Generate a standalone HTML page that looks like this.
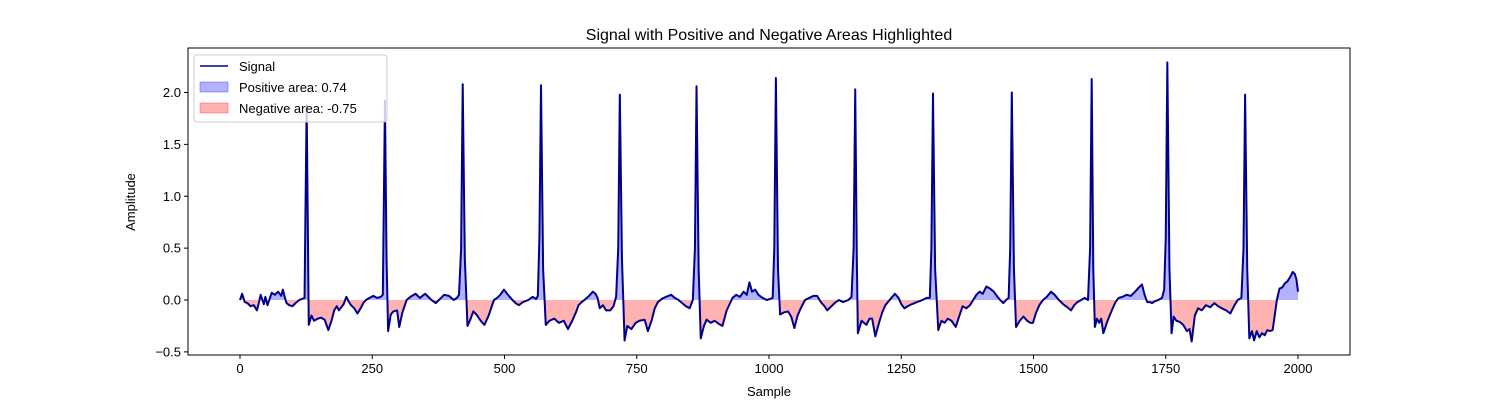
<!DOCTYPE html>
<html><head><meta charset="utf-8"><style>
body{margin:0;background:#fff}
svg text{font-family:"Liberation Sans","DejaVu Sans",sans-serif;fill:#000}
</style></head><body>
<svg id="chart" width="1500" height="400" xmlns="http://www.w3.org/2000/svg"></svg>
<script>
const sampleIdx=[
0,4,9,14,20,26,32,36,39,45,48,52,56,60,66,72,78,81,85,88,93,99,105,112,117,122,
126,130,135,140,147,153,160,167,173,178,183,187,190,196,201,206,210,216,222,228,233,238,245,252,259,266,270,
274,277,280,285,290,297,301,307,315,322,332,340,350,356,362,370,378,386,395,404,410,414,418,
421,425,430,436,441,447,455,462,470,480,486,492,499,505,510,515,521,527,535,545,553,560,563,566,
569,573,578,585,594,603,612,620,628,635,640,646,651,660,667,672,676,680,686,692,700,706,711,715,
718,722,727,732,740,748,755,765,771,778,784,790,797,805,815,822,829,836,843,850,853,856,860,
863,867,871,877,882,890,897,905,912,920,931,938,945,952,958,963,968,974,980,988,996,1002,1007,1010,
1013,1017,1021,1028,1036,1042,1048,1054,1060,1068,1076,1084,1091,1098,1105,1110,1116,1124,1132,1140,1150,1156,1160,
1163,1166,1168,1175,1184,1190,1195,1201,1208,1214,1220,1228,1238,1245,1250,1256,1262,1270,1280,1290,1298,1304,1307,
1310,1314,1320,1326,1332,1338,1345,1353,1360,1366,1373,1380,1386,1392,1398,1404,1411,1418,1425,1432,1437,1443,1448,1453,1456,
1459,1463,1467,1474,1481,1488,1494,1499,1505,1511,1518,1525,1533,1540,1548,1556,1564,1571,1577,1583,1590,1597,1603,1607,
1610,1613,1616,1620,1624,1628,1632,1640,1648,1655,1661,1668,1676,1684,1692,1699,1705,1710,1715,1720,1724,1730,1736,1743,1747,1750,
1753,1757,1761,1765,1770,1776,1783,1790,1795,1799,1805,1811,1818,1826,1834,1842,1849,1856,1864,1872,1880,1886,1893,1897,
1900,1904,1908,1913,1917,1922,1927,1932,1937,1942,1947,1952,1956,1960,1965,1970,1975,1980,1985,1990,1994,1997,2000];
const amplitude=[
0,0.06,-0.02,-0.03,-0.06,-0.05,-0.1,-0.02,0.05,-0.04,0.03,-0.05,0.01,0.07,0.05,0.08,0.04,0.1,0.02,-0.03,-0.05,-0.06,-0.03,0,0.01,0.02,
1.88,-0.24,-0.15,-0.2,-0.18,-0.17,-0.19,-0.29,-0.2,-0.1,-0.06,-0.1,-0.08,-0.04,0.03,-0.02,-0.05,-0.08,-0.13,-0.08,-0.03,0.0,0.02,0.04,0.02,0.03,0.05,
1.92,0.4,-0.3,-0.14,-0.11,-0.1,-0.26,-0.12,0.0,0.03,0.06,0.02,0.06,0.03,0.0,-0.03,0.01,0.05,0.04,0.0,0.02,0.05,0.5,
2.08,0.4,-0.25,-0.18,-0.11,-0.14,-0.2,-0.24,-0.15,0.0,0.02,0.05,0.1,0.06,0.03,0.0,-0.03,-0.05,-0.02,0.0,0.03,0.01,0.04,0.6,
2.07,0.3,-0.24,-0.2,-0.18,-0.22,-0.2,-0.28,-0.2,-0.12,-0.05,-0.02,0.0,0.04,0.08,0.06,0.02,-0.08,-0.05,-0.1,-0.1,-0.06,0.03,0.5,
1.98,0.4,-0.39,-0.25,-0.28,-0.22,-0.2,-0.19,-0.3,-0.2,-0.08,-0.02,0.01,0.03,0.05,0.02,0.0,-0.03,-0.06,-0.08,-0.04,0.0,0.5,
2.06,0.3,-0.37,-0.25,-0.19,-0.22,-0.2,-0.23,-0.25,-0.1,0.02,0.05,0.03,0.08,0.05,0.17,0.08,0.1,0.05,0.02,0.0,0.01,0.02,0.5,
2.14,0.3,-0.14,-0.12,-0.11,-0.16,-0.27,-0.15,-0.08,0.0,0.02,0.04,0.04,-0.02,-0.06,-0.1,-0.07,-0.03,0.0,-0.02,0.0,0.03,0.5,
2.03,0.4,-0.32,-0.2,-0.24,-0.18,-0.18,-0.35,-0.22,-0.12,-0.05,0.0,0.06,0.02,-0.04,-0.08,-0.06,-0.04,-0.02,0.0,0.02,0.02,0.5,
1.99,0.3,-0.29,-0.2,-0.22,-0.18,-0.2,-0.26,-0.15,-0.06,-0.08,-0.05,0.0,0.05,0.08,0.06,0.13,0.11,0.08,0.03,0.0,-0.03,0.0,0.02,0.5,
2.0,0.3,-0.26,-0.2,-0.16,-0.2,-0.22,-0.22,-0.12,-0.05,0.0,0.03,0.08,0.05,0.0,-0.04,-0.07,-0.1,-0.05,-0.02,0.0,0.02,0.0,0.5,
2.13,0.3,-0.26,-0.18,-0.22,-0.18,-0.32,-0.2,-0.1,-0.02,0.02,0.03,0.05,0.04,0.08,0.12,0.15,0.05,-0.02,-0.02,-0.03,-0.01,0.0,0.02,0.1,0.6,
2.29,0.3,-0.32,-0.16,-0.2,-0.21,-0.24,-0.3,-0.28,-0.4,-0.15,-0.08,-0.1,-0.05,-0.07,-0.03,-0.06,-0.08,-0.1,-0.13,-0.05,0.0,0.02,0.5,
1.98,0.3,-0.37,-0.3,-0.39,-0.3,-0.36,-0.32,-0.34,-0.29,-0.3,-0.29,-0.15,0.0,0.11,0.12,0.16,0.18,0.22,0.27,0.25,0.2,0.08];
const xTicks=[0,250,500,750,1000,1250,1500,1750,2000];
const yTicks=[-0.5,0.0,0.5,1.0,1.5,2.0];
const legendLabels=["Signal","Positive area: 0.74","Negative area: -0.75"];

const L=188,R=1350,T=48,B=355;
const X=v=>240+v*(1298-240)/2000;
const Y=v=>300-v*103.75;
const NS="http://www.w3.org/2000/svg";
const svg=document.getElementById('chart');
function mk(tag,attrs,parent){const e=document.createElementNS(NS,tag);for(const k in attrs)e.setAttribute(k,attrs[k]);(parent||svg).appendChild(e);return e;}

const defs=mk('defs',{});
const cp=mk('clipPath',{id:'pos'},defs);mk('rect',{x:L,y:T,width:R-L,height:Y(0)-T},cp);
const cn=mk('clipPath',{id:'neg'},defs);mk('rect',{x:L,y:Y(0),width:R-L,height:B-Y(0)},cn);

const n=Math.min(sampleIdx.length,amplitude.length);
let pts=[];
for(let i=0;i<n;i++)pts.push(X(sampleIdx[i]).toFixed(2)+','+Y(amplitude[i]).toFixed(2));
const area='M'+X(sampleIdx[0])+','+Y(0)+' L'+pts.join(' L')+' L'+X(sampleIdx[n-1])+','+Y(0)+' Z';
const pa=mk('path',{d:area,fill:'rgba(0,0,255,0.3)','clip-path':'url(#pos)'});


const na=mk('path',{d:area,fill:'rgba(255,0,0,0.3)','clip-path':'url(#neg)'});


const ln=mk('polyline',{points:pts.join(' '),fill:'none',stroke:'#00008b','stroke-width':2,'stroke-linejoin':'round'});



const frame=mk('rect',{x:L,y:T,width:R-L,height:B-T,fill:'none',stroke:'#000','stroke-width':1});



xTicks.forEach(t=>{
  mk('line',{x1:X(t),x2:X(t),y1:B,y2:B+4,stroke:'#000'});
  const tx=mk('text',{x:X(t),y:B+18,'text-anchor':'middle','font-size':13});
  tx.textContent=t;
  
  
});
yTicks.forEach(t=>{
  mk('line',{x1:L-4,x2:L,y1:Y(t),y2:Y(t),stroke:'#000'});
  const tx=mk('text',{x:L-7,y:Y(t)+4.5,'text-anchor':'end','font-size':13});
  tx.textContent=t.toFixed(1).replace('-','\u2212');
  
  
});
const title=mk('text',{x:769,y:40,'text-anchor':'middle','font-size':16});
title.textContent='Signal with Positive and Negative Areas Highlighted';


const xl=mk('text',{x:769,y:396,'text-anchor':'middle','font-size':13});
xl.textContent='Sample';


const yl=mk('text',{x:0,y:0,'text-anchor':'middle','font-size':13,transform:'translate(135,202) rotate(-90)'});
yl.textContent='Amplitude';



const lg=mk('g',{});


mk('rect',{x:194,y:55,width:193,height:67,rx:3,fill:'rgba(255,255,255,0.8)',stroke:'#ccc'},lg);
mk('line',{x1:200,x2:228,y1:66,y2:66,stroke:'#00008b','stroke-width':1.6},lg);
mk('rect',{x:200,y:82,width:28,height:10,fill:'rgba(0,0,255,0.3)',stroke:'rgba(0,0,255,0.3)'},lg);
mk('rect',{x:200,y:103,width:28,height:10,fill:'rgba(255,0,0,0.3)',stroke:'rgba(255,0,0,0.3)'},lg);
legendLabels.forEach((s,i)=>{
  const t=mk('text',{x:239,y:71+i*21,'font-size':13},lg);
  t.textContent=s;
  
  
});
</script>
</body></html>
